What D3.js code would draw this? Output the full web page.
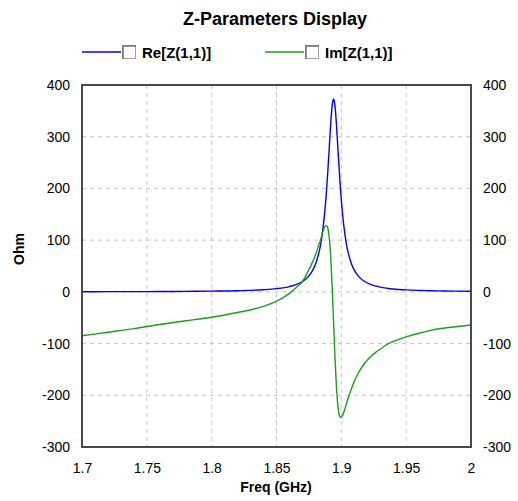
<!DOCTYPE html>
<html>
<head>
<meta charset="utf-8">
<script src="https://cdn.jsdelivr.net/npm/d3@7/dist/d3.min.js"></script>
<style>
  body { margin: 0; background: #fff; }
  text { font-family: "Liberation Sans", Arial, sans-serif; fill: #000; }
</style>
</head>
<body>
<svg id="chart" width="518" height="501"></svg>
<script>
// frequencies (GHz)
const freq = [1.70, 1.72, 1.74, 1.76, 1.78, 1.80, 1.82, 1.84, 1.85, 1.86, 1.865, 1.87, 1.874, 1.878,
  1.880, 1.882, 1.884, 1.886, 1.888, 1.889, 1.890, 1.891, 1.892, 1.893, 1.894, 1.895, 1.896,
  1.897, 1.898, 1.899, 1.900, 1.901, 1.902, 1.904, 1.906, 1.908, 1.910, 1.914, 1.918, 1.922,
  1.926, 1.930, 1.935, 1.94, 1.95, 1.96, 1.97, 1.98, 1.99, 2.00];
const reZ = [0.3, 0.4, 0.5, 0.6, 0.9, 1.4, 2.2, 4.1, 6.2, 10.2, 13.9, 20, 28, 42,
  53, 69, 91, 126, 177, 211, 250, 292, 332, 362, 373, 362, 332,
  292, 250, 211, 177, 149, 126, 91, 69, 53, 42, 28, 20, 15,
  11.5, 9.1, 7.1, 5.6, 3.8, 2.8, 2.1, 1.7, 1.4, 1.1];
const imZ = [-85, -78, -71, -63, -56, -49, -40, -28, -18, -3, 8, 20, 38, 59,
  71, 86, 101, 118, 128, 127, 118, 96, 59, 6, -57, -121, -174,
  -211, -233, -242, -243, -239, -232, -216, -200, -186, -173, -153, -138, -127,
  -118, -111, -102, -96, -87, -80, -74, -70, -67, -64];
const xTicks = [1.7, 1.75, 1.8, 1.85, 1.9, 1.95, 2];
const yTicks = [-300, -200, -100, 0, 100, 200, 300, 400];
const seriesNames = ["Re[Z(1,1)]", "Im[Z(1,1)]"];
const seriesColors = ["#0000ff", "#1c9e1c"];

const svg = d3.select("#chart");
const margin = { left: 82, top: 85, right: 47, bottom: 54 };
const W = 518, H = 501;

const x = d3.scaleLinear().domain([1.7, 2]).range([margin.left, W - margin.right]);
const y = d3.scaleLinear().domain([-300, 400]).range([H - margin.bottom, margin.top]);

// grid
const grid = svg.append("g").attr("stroke", "#c4c4c4").attr("stroke-dasharray", "4,4").attr("stroke-width", 1);
grid.selectAll(".vg").data(xTicks.slice(1, -1)).enter().append("line")
  .attr("x1", d => x(d)).attr("x2", d => x(d))
  .attr("y1", y(400)).attr("y2", y(-300));
grid.selectAll(".hg").data(yTicks.slice(1, -1)).enter().append("line")
  .attr("x1", x(1.7)).attr("x2", x(2))
  .attr("y1", d => y(d)).attr("y2", d => y(d));

// axes labels via d3 axes, domain/ticks hidden
const fmt = d => String(+d.toFixed(2));
const axisStyle = g => {
  g.select(".domain").remove();
  g.selectAll(".tick line").remove();
  g.selectAll("text").attr("font-size", 14).attr("fill", "#000")
    .style("font-family", '"Liberation Sans", Arial, sans-serif');
};
svg.append("g").attr("transform", `translate(0,${y(-300)})`)
  .call(d3.axisBottom(x).tickValues(xTicks).tickFormat(fmt).tickSize(0).tickPadding(16))
  .call(axisStyle);
svg.append("g").attr("transform", `translate(${x(1.7)},0)`)
  .call(d3.axisLeft(y).tickValues(yTicks).tickFormat(fmt).tickSize(0).tickPadding(12))
  .call(axisStyle);
svg.append("g").attr("transform", `translate(${x(2)},0)`)
  .call(d3.axisRight(y).tickValues(yTicks).tickFormat(fmt).tickSize(0).tickPadding(12))
  .call(axisStyle);

// curves
const plot = svg.append("g");
[reZ, imZ].forEach((vals, i) => {
  const pts = freq.map((f, k) => [f, vals[k]]);
  plot.append("path").datum(pts)
    .attr("fill", "none")
    .attr("stroke", seriesColors[i])
    .attr("stroke-width", 1.4)
    .attr("d", d3.line().curve(d3.curveMonotoneX).x(d => x(d[0])).y(d => y(d[1])));
});

// frame
svg.append("rect")
  .attr("x", x(1.7)).attr("y", y(400))
  .attr("width", x(2) - x(1.7)).attr("height", y(-300) - y(400))
  .attr("fill", "none").attr("stroke", "#4a4a4a").attr("stroke-width", 2);

// title
svg.append("text").attr("x", 275).attr("y", 25)
  .attr("text-anchor", "middle").attr("font-size", 18).attr("font-weight", "bold")
  .text("Z-Parameters Display");

// axis titles
svg.append("text").attr("x", 276).attr("y", 492)
  .attr("text-anchor", "middle").attr("font-size", 14).attr("font-weight", "bold")
  .text("Freq (GHz)");
svg.append("text").attr("transform", "translate(24,249) rotate(-90)")
  .attr("text-anchor", "middle").attr("font-size", 14).attr("font-weight", "bold")
  .text("Ohm");

// legend
const legendX = [82, 265];
const legend = svg.selectAll(".leg").data(seriesNames).enter().append("g")
  .attr("transform", (d, i) => `translate(${legendX[i]},52)`);
legend.append("line").attr("x1", 0).attr("x2", 39).attr("y1", 0).attr("y2", 0)
  .attr("stroke", (d, i) => seriesColors[i]).attr("stroke-width", 1.5);
legend.append("rect").attr("x", 40.5).attr("y", -6.5).attr("width", 13).attr("height", 13)
  .attr("fill", "#fff").attr("stroke", "#a0a0a0");
legend.append("path").attr("d", "M41,7 V-6 H54").attr("fill", "none").attr("stroke", "#707070").attr("stroke-width", 1.5);
legend.append("text").attr("x", 60).attr("y", 5.5)
  .attr("font-size", 15).attr("font-weight", "bold")
  .text(d => d);
</script>
</body>
</html>
